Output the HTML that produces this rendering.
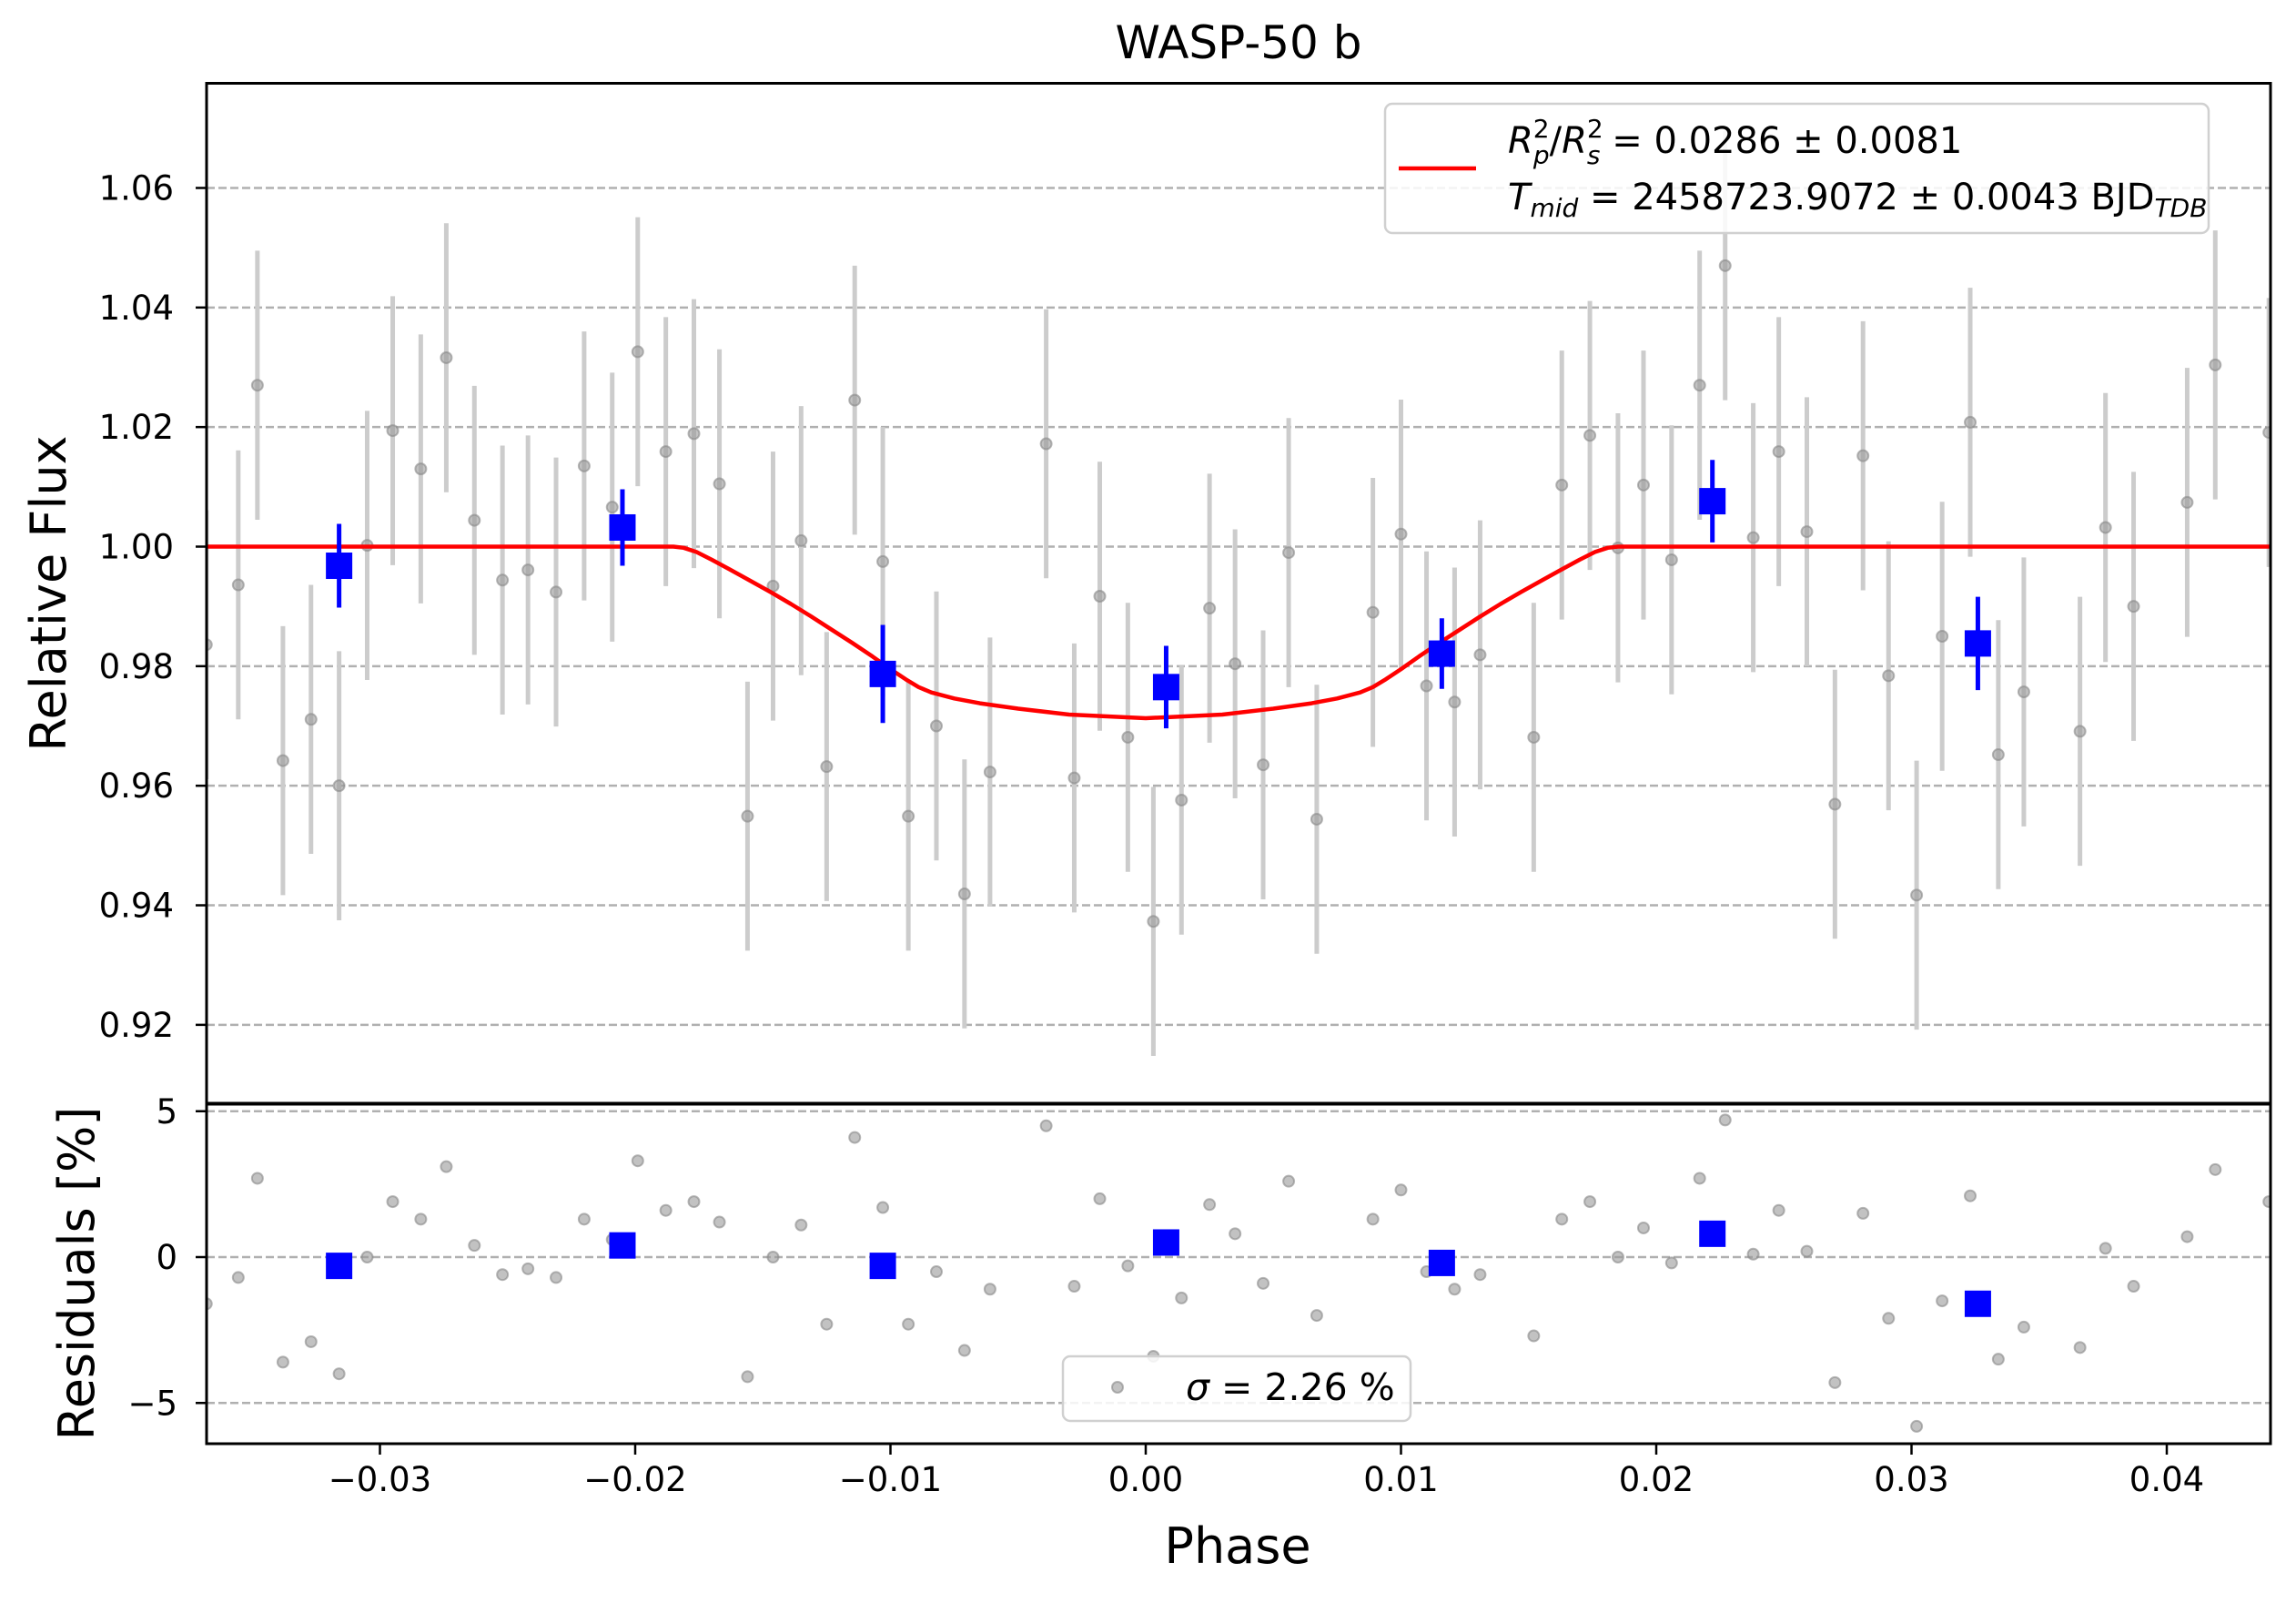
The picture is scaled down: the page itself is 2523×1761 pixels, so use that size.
<!DOCTYPE html>
<html><head><meta charset="utf-8"><style>
html,body{margin:0;padding:0;background:#fff;}
svg{display:block;font-family:"DejaVu Sans","Liberation Sans",sans-serif;}
</style></head><body>
<svg id="chart" width="2523" height="1761" viewBox="0 0 2523 1761" xmlns="http://www.w3.org/2000/svg">
<defs>
<clipPath id="clipTop"><rect x="227" y="91.5" width="2268" height="1121"/></clipPath>
<clipPath id="clipBot"><rect x="227" y="1213" width="2268" height="373"/></clipPath>
</defs>
<rect x="0" y="0" width="2523" height="1761" fill="#fff"/>
<text x="1361" y="64" font-size="50" text-anchor="middle">WASP-50 b</text>
<g id="topGrid"></g><g id="botGrid"></g>
<g id="topMarks" clip-path="url(#clipTop)"></g>
<g id="botMarks" clip-path="url(#clipBot)"></g>
<g id="axes"></g>
<text transform="translate(72,652) rotate(-90)" font-size="54" text-anchor="middle">Relative Flux</text>
<text transform="translate(103,1399) rotate(-90)" font-size="54" text-anchor="middle">Residuals [%]</text>
<text x="1360" y="1717" font-size="54" text-anchor="middle">Phase</text>
<g>
<rect x="1522" y="114" width="905" height="142" rx="8" fill="#fff" fill-opacity="0.85" stroke="#d0d0d0" stroke-width="2.5"/>
<line x1="1537" y1="185" x2="1622" y2="185" stroke="#ff0000" stroke-width="4.5"/>
<text x="1657" y="168" font-size="40"><tspan font-style="italic">R</tspan><tspan font-size="28" dy="-17">2</tspan><tspan font-size="28" font-style="italic" dx="-17.8" dy="29">p</tspan><tspan dy="-12">/</tspan><tspan font-style="italic">R</tspan><tspan font-size="28" dy="-17">2</tspan><tspan font-size="28" font-style="italic" dx="-17.8" dy="29">s</tspan><tspan dy="-12"> = 0.0286 ± 0.0081</tspan></text>
<text x="1657" y="230" font-size="40"><tspan font-style="italic">T</tspan><tspan font-size="28" dy="8" font-style="italic">mid</tspan><tspan dy="-8"> = 2458723.9072 ± 0.0043 BJD</tspan><tspan font-size="28" dy="8" font-style="italic">TDB</tspan></text>
</g>
<g>
<rect x="1168" y="1490" width="382" height="71" rx="8" fill="#fff" fill-opacity="0.85" stroke="#d0d0d0" stroke-width="2.5"/>
<circle cx="1228" cy="1524" r="6" fill="#999" fill-opacity="0.6" stroke="#888" stroke-opacity="0.6" stroke-width="2"/>
<text x="1303" y="1538" font-size="41"><tspan font-style="italic">σ</tspan> = 2.26 %</text>
</g>
</svg>
<script>
const phase=[-0.0368,-0.03555,-0.0348,-0.0338,-0.0327,-0.0316,-0.0305,-0.0295,-0.0284,-0.0274,-0.0263,-0.0252,-0.0242,-0.0231,-0.0220,-0.0209,-0.0199,-0.0188,-0.0177,-0.0167,-0.0156,-0.0146,-0.0135,-0.0125,-0.0114,-0.0103,-0.0093,-0.0082,-0.0071,-0.0061,-0.0039,-0.0028,-0.0018,-0.0007,0.0003,0.0014,0.0025,0.0035,0.0046,0.0056,0.0067,0.0089,0.0100,0.0110,0.0121,0.0131,0.0152,0.0163,0.0174,0.0185,0.0195,0.0206,0.0217,0.0227,0.0238,0.0248,0.0259,0.0270,0.0281,0.0291,0.0302,0.0312,0.0323,0.0334,0.0344,0.0366,0.0376,0.0387,0.0408,0.0419,0.0440];
const flux=[0.9836,0.9936,1.027,0.9642,0.9711,0.9600,1.0002,1.0194,1.013,1.0316,1.0044,0.9944,0.9961,0.9924,1.0135,1.0066,1.0326,1.0159,1.0189,1.0105,0.9549,0.9934,1.001,0.9632,1.0245,0.9975,0.9549,0.970,0.9419,0.9623,1.0172,0.9613,0.9917,0.9681,0.9373,0.9576,0.9897,0.9804,0.9635,0.9990,0.9544,0.9890,1.0021,0.9767,0.9740,0.9819,0.9681,1.0103,1.0186,0.9998,1.0103,0.9978,1.027,1.047,1.0015,1.0159,1.0025,0.9569,1.0152,0.9784,0.9417,0.9850,1.0208,0.9652,0.9757,0.9691,1.0032,0.9900,1.0074,1.0304,1.0191];
const fluxErr=0.0225;
const resid=[-1.6,-0.7,2.7,-3.6,-2.9,-4.0,0,1.9,1.3,3.1,0.4,-0.6,-0.4,-0.7,1.3,0.6,3.3,1.6,1.9,1.2,-4.1,0,1.1,-2.3,4.1,1.7,-2.3,-0.5,-3.2,-1.1,4.5,-1.0,2.0,-0.3,-3.4,-1.4,1.8,0.8,-0.9,2.6,-2.0,1.3,2.3,-0.5,-1.1,-0.6,-2.7,1.3,1.9,0,1.0,-0.2,2.7,4.7,0.1,1.6,0.2,-4.3,1.5,-2.1,-5.8,-1.5,2.1,-3.5,-2.4,-3.1,0.3,-1.0,0.7,3.0,1.9];
const binPhase=[-0.0316,-0.0205,-0.0103,0.0008,0.0116,0.0222,0.0326];
const binFlux=[0.9968,1.0032,0.9787,0.9765,0.9821,1.0076,0.9838];
const binErr=[0.0070,0.0064,0.0082,0.0069,0.0059,0.0069,0.0078];
const binResid=[-0.3,0.4,-0.3,0.5,-0.2,0.8,-1.6];
const modelPhase=[-0.0368,-0.0185,-0.0181,-0.0176,-0.0170,-0.0163,-0.0155,-0.0147,-0.0139,-0.0131,-0.0123,-0.0115,-0.0107,-0.0100,-0.0094,-0.0089,-0.0084,-0.0075,-0.0065,-0.0050,-0.0030,0,0.0030,0.0050,0.0065,0.0075,0.0084,0.0089,0.0094,0.0100,0.0107,0.0115,0.0123,0.0131,0.0139,0.0147,0.0155,0.0163,0.0170,0.0176,0.0181,0.0185,0.0441];
const modelFlux=[1,1,0.9998,0.9991,0.9978,0.9962,0.9943,0.9924,0.9904,0.9883,0.9861,0.9839,0.9816,0.9795,0.9778,0.9765,0.9756,0.9746,0.9738,0.9729,0.9719,0.9713,0.9719,0.9729,0.9738,0.9746,0.9756,0.9765,0.9778,0.9795,0.9816,0.9839,0.9861,0.9883,0.9904,0.9924,0.9943,0.9962,0.9978,0.9991,0.9998,1,1];
const topTicks=[0.92,0.94,0.96,0.98,1.00,1.02,1.04,1.06];
const topTickLabels=["0.92","0.94","0.96","0.98","1.00","1.02","1.04","1.06"];
const botTicks=[-5,0,5];
const botTickLabels=["\u22125","0","5"];
const xTicks=[-0.03,-0.02,-0.01,0,0.01,0.02,0.03,0.04];
const xTickLabels=["\u22120.03","\u22120.02","\u22120.01","0.00","0.01","0.02","0.03","0.04"];

const NS="http://www.w3.org/2000/svg";
const L=227,R=2495,T1=91.5,B1=1212,T2=1213,B2=1586;
const xs=p=>1259+p*28050;
const yTop=f=>600.5-(f-1)*6567;
const yBot=r=>1381-r*32.05;
function mk(tag,attrs,parent){const e=document.createElementNS(NS,tag);for(const k in attrs)e.setAttribute(k,attrs[k]);parent.appendChild(e);return e;}
const tg=document.getElementById('topGrid'),bg=document.getElementById('botGrid'),tm=document.getElementById('topMarks'),bm=document.getElementById('botMarks'),ax=document.getElementById('axes');
const gs={stroke:'#b0b0b0','stroke-width':2.5,'stroke-dasharray':'9,4'};
topTicks.forEach((v,i)=>{const y=yTop(v);
 const g=mk('line',Object.assign({x1:L,x2:R,y1:y,y2:y},gs),tg);
 
 
 const t=mk('line',{x1:L-12,x2:L,y1:y,y2:y,stroke:'#000','stroke-width':2.5},ax);
 
 
 const tx=mk('text',{x:L-36,y:y+13,'font-size':37,'text-anchor':'end'},ax);tx.textContent=topTickLabels[i];
 
 
});
botTicks.forEach((v,i)=>{const y=yBot(v);
 const g=mk('line',Object.assign({x1:L,x2:R,y1:y,y2:y},gs),bg);
 
 
 const t=mk('line',{x1:L-12,x2:L,y1:y,y2:y,stroke:'#000','stroke-width':2.5},ax);
 
 
 const tx=mk('text',{x:L-32,y:y+13,'font-size':37,'text-anchor':'end'},ax);tx.textContent=botTickLabels[i];
 
 
});
xTicks.forEach((v,i)=>{const x=xs(v);
 const t=mk('line',{x1:x,x2:x,y1:B2,y2:B2+12,stroke:'#000','stroke-width':2.5},ax);
 
 
 const tx=mk('text',{x:x,y:B2+52,'font-size':37,'text-anchor':'middle'},ax);tx.textContent=xTickLabels[i];
 
 
});
const f1=mk('rect',{x:L,y:T1,width:R-L,height:B1-T1,fill:'none',stroke:'#000','stroke-width':3},ax);


const f2=mk('rect',{x:L,y:T2,width:R-L,height:B2-T2,fill:'none',stroke:'#000','stroke-width':3},ax);


phase.forEach((p,i)=>{const x=xs(p);
 const e=mk('line',{x1:x,x2:x,y1:yTop(flux[i]+fluxErr),y2:yTop(flux[i]-fluxErr),stroke:'#cccccc','stroke-width':5},tm);
 
 
});
phase.forEach((p,i)=>{const x=xs(p);
 const c=mk('circle',{cx:x,cy:yTop(flux[i]),r:6,fill:'#999','fill-opacity':0.6,stroke:'#888','stroke-opacity':0.6,'stroke-width':2},tm);
 
 
 const d=mk('circle',{cx:x,cy:yBot(resid[i]),r:6,fill:'#999','fill-opacity':0.6,stroke:'#888','stroke-opacity':0.6,'stroke-width':2},bm);
 
 
});
const pts=modelPhase.map((p,i)=>xs(p).toFixed(1)+','+yTop(modelFlux[i]).toFixed(1)).join(' ');
const ml=mk('polyline',{points:pts,fill:'none',stroke:'#ff0000','stroke-width':4.5,'stroke-linejoin':'round'},tm);


binPhase.forEach((p,i)=>{const x=xs(p),y=yTop(binFlux[i]);
 const e=mk('line',{x1:x,x2:x,y1:yTop(binFlux[i]+binErr[i]),y2:yTop(binFlux[i]-binErr[i]),stroke:'#0000ff','stroke-width':5},tm);
 
 
 const s=mk('rect',{x:x-14.5,y:y-14.5,width:29,height:29,fill:'#0000ff'},tm);
 
 
 const r=mk('rect',{x:x-14.5,y:yBot(binResid[i])-14.5,width:29,height:29,fill:'#0000ff'},bm);
 
 
});
</script>
</body></html>
